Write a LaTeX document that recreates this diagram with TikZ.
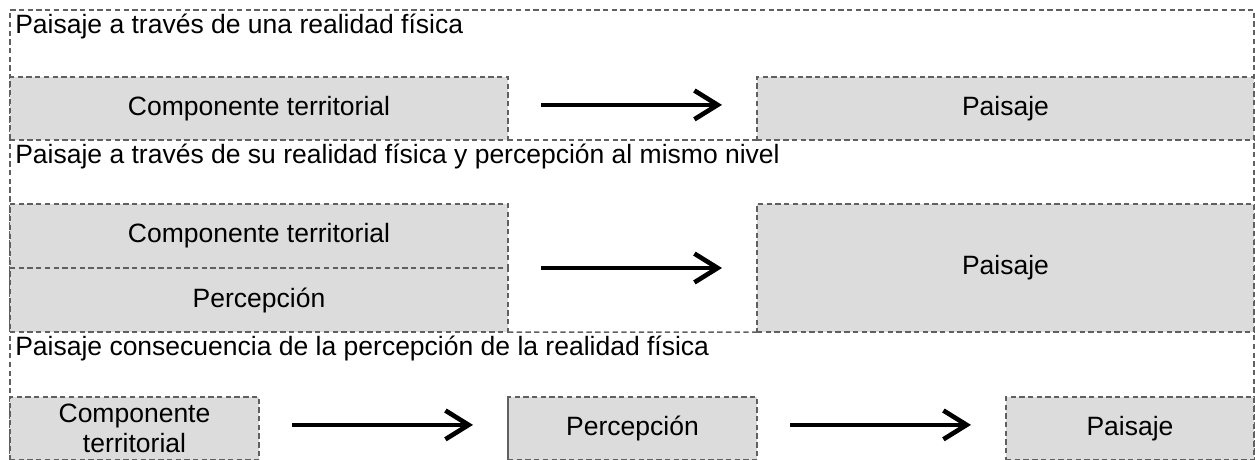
\documentclass[tikz,border=0pt]{standalone}
\usepackage{fontspec}
\setmainfont{Liberation Sans}
\usetikzlibrary{arrows.meta}
\definecolor{boxfill}{HTML}{DCDCDC}
\definecolor{boxline}{HTML}{606060}
\tikzset{
    dashline/.style={draw=boxline, line width=1.07pt, dash pattern=on 3.8pt off 2.4pt},
    box/.style={dashline, fill=boxfill, inner sep=0pt, outer sep=0pt, align=center},
    heading/.style={anchor=base west, inner sep=0pt},
    flow/.style={-{Straight Barb[length=0.58cm, width=0.72cm]}, line width=3.3pt,
        shorten <=0.825cm, shorten >=0.875cm}
}

\begin{document}
\begin{tikzpicture}[font=\fontsize{18.85}{21.3}\selectfont]
    \useasboundingbox (0,0) rectangle (31.375,11.475);
    % Outer frame (open at the bottom)
    \draw[dashline] (0.25,-0.1) -- (0.25,11.225) -- (31.35,11.225) -- (31.35,-0.1);

    % Realidad fisica
    \node[heading] (h1) at (0.375,10.65) {Paisaje a través de una realidad física};
    \node[box, minimum width=12.45cm, minimum height=1.575cm] (ct1) at (6.475,8.7625) {Componente territorial};
    \node[box, minimum width=12.425cm, minimum height=1.575cm] (p1) at (25.1375,8.7625) {Paisaje};
    \draw[dashline] (ct1.south east) -- (p1.south west);
    \draw[flow] ([yshift=0.09cm]ct1.east) -- ([yshift=0.09cm]p1.west);

    % Realidad fisica y percepcion
    \node[heading] (h2) at (0.375,7.4) {Paisaje a través de su realidad física y percepción al mismo nivel};
    \node[box, minimum width=12.45cm, minimum height=1.6cm] (ct2) at (6.475,5.575) {Componente territorial};
    \node[box, minimum width=12.45cm, minimum height=1.6cm] (pc2) at (6.475,3.975) {Percepción};
    \node[box, minimum width=12.425cm, minimum height=3.2cm] (p2) at (25.1375,4.775) {Paisaje};
    \draw[dashline] (pc2.south east) -- (p2.south west);
    \draw[flow] (ct2.south east) -- (p2.west);

    % Percepcion de la realidad fisica
    \node[heading] (h3) at (0.375,2.6) {Paisaje consecuencia de la percepción de la realidad física};
    \node[box, minimum width=6.225cm, minimum height=1.575cm] (ct3) at (3.3625,0.7625) {Componente\\territorial};
    \node[box, minimum width=6.225cm, minimum height=1.575cm] (pc3) at (15.8125,0.7625) {Percepción};
    \node[box, minimum width=6.2cm, minimum height=1.575cm] (p3) at (28.25,0.7625) {Paisaje};
    \draw[boxline, line width=1.07pt] (pc3.south west) -- (pc3.north west);
    \draw[flow] ([yshift=0.09cm]ct3.east) -- ([yshift=0.09cm]pc3.west);
    \draw[flow] ([yshift=0.09cm]pc3.east) -- ([yshift=0.09cm]p3.west);
\end{tikzpicture}
\end{document}
